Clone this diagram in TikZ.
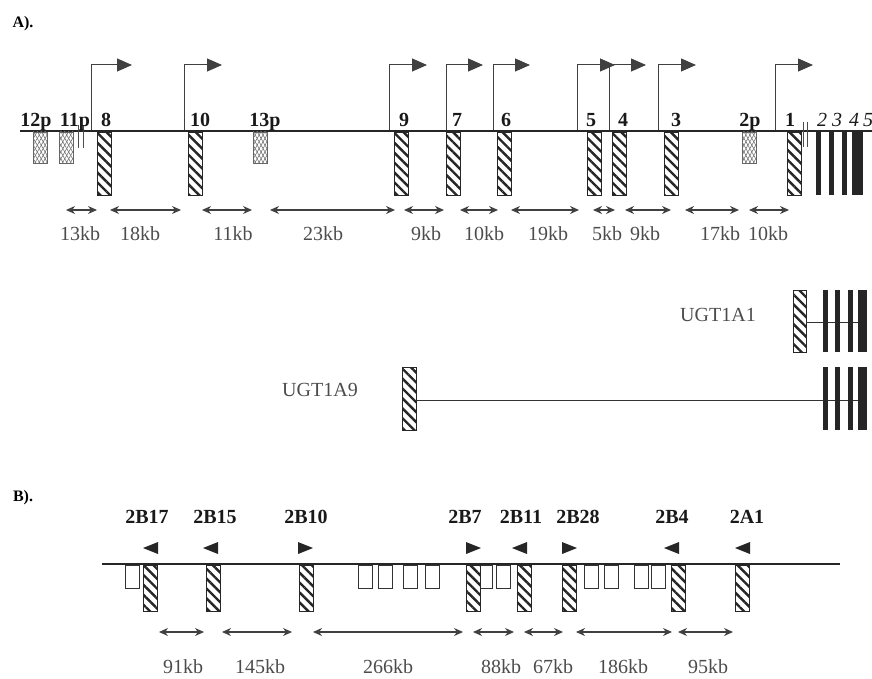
\documentclass[tikz,border=0pt]{standalone}
\usepackage{fontspec}
\setmainfont{Liberation Serif}
\usetikzlibrary{arrows.meta, patterns.meta}

\begin{document}
\begin{tikzpicture}[x=1pt, y=1pt,
    exon/.style={draw=black!85, line width=0.8pt, pattern={Lines[angle=-45, distance=7pt, line width=2.4pt]}, pattern color=black!85},
    pseudo/.style={draw=black!60, line width=0.6pt, pattern={Lines[angle=60, distance=3.4pt, line width=0.6pt]}, pattern color=black!55},
    pseudoback/.style={pattern={Lines[angle=-60, distance=3.4pt, line width=0.6pt]}, pattern color=black!55},
    bar/.style={fill=black!85},
    openbox/.style={draw=black!80, line width=0.8pt, fill=white},
    tss/.style={draw=black!75, line width=1pt, -{Triangle[length=15pt, width=13pt]}},
    dist/.style={draw=black!75, line width=1.3pt, {Stealth[length=9pt, width=8pt]}-{Stealth[length=9pt, width=8pt]}},
    kb/.style={text=black!70, font=\fontsize{20}{22}\selectfont, inner sep=0pt},
    exlab/.style={text=black!90, font=\bfseries\fontsize{20}{22}\selectfont, anchor=base, inner sep=0pt},
    panel/.style={font=\bfseries\fontsize{16}{18}\selectfont, inner sep=0pt}]
    \useasboundingbox (0,0) rectangle (872,-679);

    % Phần A: cụm gen UGT1A
    \node[panel] (panA) at (23,-24) {A).};
    \draw[line width=2.6pt, black!85] (20,-131) -- (872,-131);
    \foreach \x/\t in {91/132, 184/222, 389/427, 446/483, 493/530, 577/615, 609/646, 658/696, 775/813}
        \draw[tss] (\x,-130) |- (\t,-65);
    \foreach \x in {33, 59, 253, 742} {
        \fill[pseudoback] (\x,-132) rectangle (\x+14,-163);
        \draw[pseudo] (\x,-132) rectangle (\x+14,-163);
    }
    \foreach \x in {97, 188, 394, 446, 497, 587, 612, 664, 787}
        \draw[exon] (\x,-132) rectangle (\x+14,-195);
    \foreach \a/\b in {816/821, 829/834, 842/847, 852/863}
        \fill[bar] (\a,-132) rectangle (\b,-195);
    \foreach \x in {78, 83}
        \draw[black!70, line width=0.8pt] (\x,-125) -- (\x,-148);
    \foreach \x in {803, 807}
        \draw[black!70, line width=0.8pt] (\x,-122) -- (\x,-147);
    \foreach \x/\t in {36/12p, 75/11p, 106/8, 200/10, 265/13p, 404/9, 457/7, 506/6, 591/5, 623/4, 676/3, 750/2p, 790/1}
        \node[exlab] (e\t) at (\x,-127) {\t};
    \foreach \x/\t in {822/2, 837/3, 854/4, 868/5}
        \node[exlab, font=\itshape\fontsize{20}{22}\selectfont] (b\t) at (\x,-127) {\t};
    \foreach \a/\b/\m/\t [count=\i] in {66/97/80/13kb, 110/181/140/18kb, 202/252/233/11kb, 270/395/323/23kb, 404/444/426/9kb, 460/498/484/10kb, 511/579/548/19kb, 593/615/607/5kb, 625/671/645/9kb, 685/739/720/17kb, 749/789/768/10kb} {
        \draw[dist] (\a,-210) -- (\b,-210);
        \node[kb] (da\i) at (\m,-234) {\t};
    }

    % Hai phiên mã UGT1A1 và UGT1A9
    \node[kb] (ugt1) at (718,-315) {UGT1A1};
    \draw[exon] (793,-290) rectangle (806,-352);
    \draw[black!80, line width=0.8pt] (806,-322) -- (858,-322);
    \node[kb] (ugt9) at (320,-390) {UGT1A9};
    \draw[exon] (402,-367) rectangle (416,-430);
    \draw[black!80, line width=0.8pt] (416,-400) -- (858,-400);
    \foreach \a/\b in {823/828, 835/840, 848/853, 858/867} {
        \fill[bar] (\a,-290) rectangle (\b,-352);
        \fill[bar] (\a,-367) rectangle (\b,-430);
    }

    % Phần B: cụm gen UGT2B
    \node[panel] (panB) at (23,-498) {B).};
    \draw[line width=2.6pt, black!85] (102,-564) -- (840,-564);
    \foreach \x in {125, 358, 378, 403, 425, 496, 584, 604, 634, 651}
        \draw[openbox] (\x,-565) rectangle (\x+14,-588);
    \draw[openbox] (480,-565) rectangle (492,-588);
    \foreach \x in {143, 206, 299, 466, 517, 562, 671, 735}
        \draw[exon] (\x,-565) rectangle (\x+14,-611);
    % chiều phiên mã
    \foreach \x in {143, 203, 512, 664, 735}
        \fill[black!85] (\x,-548) -- (\x+15,-542) -- (\x+15,-554) -- cycle;
    \foreach \x in {298, 466, 562}
        \fill[black!85] (\x+15,-548) -- (\x,-542) -- (\x,-554) -- cycle;
    \foreach \x/\t in {147/2B17, 215/2B15, 306/2B10, 465/2B7, 521/2B11, 578/2B28, 672/2B4, 747/2A1}
        \node[exlab, anchor=center] (g\t) at (\x,-517) {\t};
    \foreach \a/\b/\m/\t [count=\i] in {159/204/183/91kb, 222/292/260/145kb, 313/463/388/266kb, 473/514/501/88kb, 524/563/553/67kb, 576/672/623/186kb, 678/733/708/95kb} {
        \draw[dist] (\a,-632) -- (\b,-632);
        \node[kb] (db\i) at (\m,-667) {\t};
    }
\end{tikzpicture}
\end{document}
